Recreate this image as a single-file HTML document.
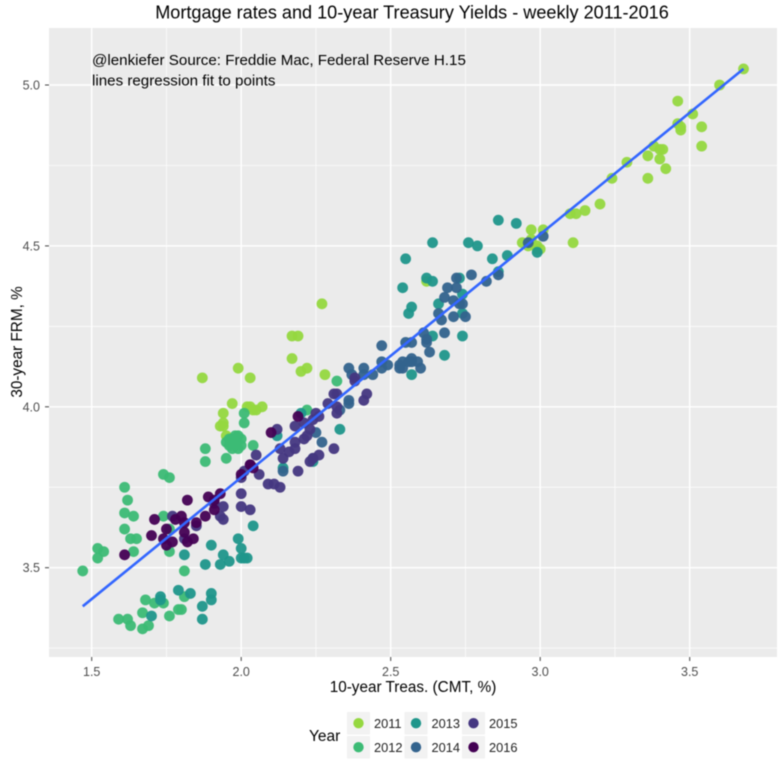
<!DOCTYPE html>
<html lang="en">
<head>
<meta charset="utf-8">
<title>Mortgage rates and 10-year Treasury Yields</title>
<style>
html,body{margin:0;padding:0;background:#fff;width:781px;height:763px;overflow:hidden}
svg{display:block;font-family:"Liberation Sans",sans-serif;filter:blur(0.5px)}
</style>
</head>
<body>
<svg id="chart" width="781" height="763" viewBox="0 0 781 763">
  <rect x="49" y="28" width="728" height="629" fill="#ebebeb"/>
  <g id="grid"></g>
  <g id="marks"></g>
  <g id="fit"></g>
  <g id="axes"></g>
  <text x="412" y="18.5" font-size="18.1" text-anchor="middle" fill="#000">Mortgage rates and 10-year Treasury Yields - weekly 2011-2016</text>
  <text x="92" y="65" font-size="15.15" fill="#000">@lenkiefer Source: Freddie Mac, Federal Reserve H.15</text>
  <text x="92" y="85.5" font-size="15.15" fill="#000">lines regression fit to points</text>
  <text x="413" y="692" font-size="15.3" text-anchor="middle" fill="#000">10-year Treas. (CMT, %)</text>
  <text transform="translate(22,342) rotate(-90)" font-size="15.3" text-anchor="middle" fill="#000">30-year FRM, %</text>
  <text x="309" y="741" font-size="15.5" fill="#000">Year</text>
  <g id="legend"></g>
</svg>
<script>
const years = [2011, 2012, 2013, 2014, 2015, 2016];
const yearColors = ["#95d840", "#3cbb75", "#1f968b", "#33638d", "#453781", "#440154"];
const xMajorTicks = [1.5, 2.0, 2.5, 3.0, 3.5];
const yMajorTicks = [3.5, 4.0, 4.5, 5.0];
const xTickLabels = ["1.5", "2.0", "2.5", "3.0", "3.5"];
const yTickLabels = ["3.5", "4.0", "4.5", "5.0"];
const xMinorTicks = [1.75, 2.25, 2.75, 3.25];
const yMinorTicks = [3.25, 3.75, 4.25, 4.75];
const fitTreasury = [1.47, 3.68];
const fitMortgage = [3.38, 5.05];

const points2011 = [[3.68,5.05],[3.60,5.00],[3.46,4.95],[3.51,4.91],[3.46,4.88],[3.47,4.87],[3.47,4.86],[3.54,4.87],[3.54,4.81],[3.38,4.81],[3.40,4.80],[3.41,4.80],[3.36,4.78],[3.40,4.77],[3.42,4.74],[3.36,4.71],[3.29,4.76],[3.24,4.71],[3.20,4.63],[3.15,4.61],[3.12,4.60],[3.10,4.60],[3.11,4.51],[3.01,4.55],[2.97,4.55],[2.94,4.51],[2.96,4.50],[2.97,4.52],[2.99,4.50],[3.00,4.49],[2.99,4.49],[2.62,4.39],[2.27,4.32],[2.17,4.22],[2.19,4.22],[2.17,4.15],[2.20,4.11],[2.22,4.12],[2.28,4.10],[1.87,4.09],[1.99,4.12],[2.03,4.09],[1.97,4.01],[1.94,3.98],[1.94,3.95],[1.93,3.94],[1.94,3.94],[1.95,3.91],[2.02,4.00],[2.04,3.99],[2.05,3.99],[2.07,4.00],[2.03,4.00]];
const points2012 = [[1.47,3.49],[1.52,3.56],[1.54,3.55],[1.52,3.53],[1.61,3.75],[1.62,3.71],[1.61,3.67],[1.64,3.66],[1.61,3.62],[1.63,3.59],[1.65,3.59],[1.64,3.55],[1.74,3.79],[1.76,3.78],[1.74,3.66],[1.76,3.62],[1.76,3.55],[1.81,3.49],[1.68,3.40],[1.71,3.39],[1.74,3.39],[1.67,3.36],[1.76,3.35],[1.79,3.37],[1.80,3.37],[1.81,3.41],[1.59,3.34],[1.62,3.34],[1.63,3.32],[1.67,3.31],[1.69,3.32],[1.96,3.90],[1.97,3.89],[1.98,3.88],[1.99,3.87],[2.00,3.88],[2.00,3.90],[1.99,3.91],[1.98,3.91],[1.97,3.90],[1.97,3.87],[1.98,3.89],[1.95,3.89],[1.96,3.88],[2.04,3.88],[1.88,3.87],[1.88,3.83],[1.95,3.84],[2.01,3.98],[2.01,3.95],[2.22,3.99],[2.32,4.08]];
const points2013 = [[1.81,3.54],[1.90,3.57],[1.88,3.51],[1.94,3.54],[1.93,3.51],[1.96,3.52],[1.99,3.59],[2.00,3.56],[2.00,3.53],[2.01,3.53],[2.02,3.53],[2.04,3.63],[1.73,3.41],[1.73,3.40],[1.79,3.43],[1.83,3.42],[1.90,3.42],[1.90,3.40],[1.87,3.38],[1.87,3.34],[1.70,3.35],[2.12,3.91],[2.14,3.81],[2.24,3.83],[2.20,3.98],[2.33,3.93],[2.57,4.10],[2.68,4.16],[2.74,4.22],[2.64,4.22],[2.56,4.29],[2.57,4.31],[2.54,4.37],[2.62,4.40],[2.64,4.39],[2.55,4.46],[2.64,4.51],[2.76,4.51],[2.79,4.50],[2.86,4.58],[2.92,4.57],[2.84,4.46],[2.89,4.47],[2.66,4.32],[2.74,4.35],[2.74,4.29],[2.86,4.42],[2.99,4.48],[2.73,4.40]];
const points2014 = [[2.36,4.12],[2.37,4.10],[2.41,4.12],[2.41,4.10],[2.44,4.10],[2.47,4.19],[2.47,4.14],[2.47,4.12],[2.49,4.13],[2.53,4.13],[2.53,4.12],[2.54,4.14],[2.54,4.12],[2.55,4.20],[2.57,4.20],[2.57,4.15],[2.57,4.14],[2.59,4.14],[2.60,4.12],[2.56,4.14],[2.63,4.17],[2.62,4.20],[2.62,4.21],[2.61,4.23],[2.68,4.23],[2.67,4.27],[2.66,4.29],[2.71,4.28],[2.75,4.28],[2.74,4.32],[2.73,4.32],[2.71,4.33],[2.68,4.34],[2.69,4.37],[2.72,4.37],[2.72,4.40],[2.77,4.41],[2.82,4.39],[2.86,4.41],[2.96,4.51],[3.01,4.53],[2.36,4.02],[2.36,4.01],[2.33,3.99],[2.25,3.92],[2.27,3.89],[2.14,3.80],[2.24,3.84]];
const points2015 = [[2.00,3.73],[2.00,3.78],[2.06,3.79],[2.05,3.85],[2.01,3.80],[2.03,3.82],[2.09,3.76],[2.11,3.76],[2.13,3.75],[2.19,3.80],[2.13,3.87],[2.14,3.84],[2.16,3.86],[2.18,3.87],[2.18,3.89],[2.21,3.90],[2.22,3.91],[2.23,3.93],[2.12,3.93],[2.18,3.94],[2.21,3.95],[2.24,3.96],[2.26,3.97],[2.25,3.98],[2.23,3.83],[2.24,3.84],[2.26,3.85],[2.31,3.87],[2.29,4.01],[2.31,4.04],[2.32,4.04],[2.32,4.00],[2.32,3.98],[2.38,4.09],[2.38,4.08],[2.42,4.04],[2.41,4.02],[1.77,3.66],[1.85,3.63],[1.94,3.69],[1.93,3.66],[1.94,3.65],[1.81,3.59],[2.00,3.69],[2.03,3.68],[1.91,3.70]];
const points2016 = [[1.61,3.54],[1.70,3.60],[1.71,3.65],[1.75,3.62],[1.74,3.59],[1.75,3.57],[1.77,3.58],[1.78,3.65],[1.80,3.66],[1.81,3.61],[1.82,3.58],[1.84,3.59],[1.82,3.71],[1.81,3.64],[1.85,3.64],[1.88,3.66],[1.91,3.68],[1.89,3.72],[1.93,3.73],[1.91,3.71],[2.00,3.79],[2.03,3.82],[2.04,3.81],[2.10,3.92],[2.19,3.97]];
const seriesPoints = [points2011, points2012, points2013, points2014, points2015, points2016];

const NS = "http://www.w3.org/2000/svg";
const panelLeft = 49, panelRight = 777, panelTop = 28, panelBottom = 657;
function xScale(v) { return 91.7 + (v - 1.5) * 299; }
function yScale(v) { return 567.7 - (v - 3.5) * 321.8; }
function make(tag, parent, attrs) {
  const el = document.createElementNS(NS, tag);
  for (const k in attrs) el.setAttribute(k, attrs[k]);
  parent.appendChild(el);
  return el;
}
const grid = document.getElementById("grid");
const axes = document.getElementById("axes");
const marks = document.getElementById("marks");
const fit = document.getElementById("fit");
const legend = document.getElementById("legend");

xMinorTicks.forEach(function (v) {
  const l = make("line", grid, {x1: xScale(v), x2: xScale(v), y1: panelTop, y2: panelBottom, stroke: "#fff", "stroke-width": 0.7});
  
  
});
yMinorTicks.forEach(function (v) {
  const l = make("line", grid, {x1: panelLeft, x2: panelRight, y1: yScale(v), y2: yScale(v), stroke: "#fff", "stroke-width": 0.7});
  
  
});
xMajorTicks.forEach(function (v, i) {
  const x = xScale(v);
  const l = make("line", grid, {x1: x, x2: x, y1: panelTop, y2: panelBottom, stroke: "#fff", "stroke-width": 1.4});
  
  
  const t = make("line", axes, {x1: x, x2: x, y1: panelBottom, y2: panelBottom + 4, stroke: "#444", "stroke-width": 1});
  
  
  const s = make("text", axes, {x: x, y: 676, "font-size": 12.5, "text-anchor": "middle", fill: "#4d4d4d"});
  s.textContent = xTickLabels[i];
  
  
});
yMajorTicks.forEach(function (v, i) {
  const y = yScale(v);
  const l = make("line", grid, {x1: panelLeft, x2: panelRight, y1: y, y2: y, stroke: "#fff", "stroke-width": 1.4});
  
  
  const t = make("line", axes, {x1: panelLeft - 4, x2: panelLeft, y1: y, y2: y, stroke: "#444", "stroke-width": 1});
  
  
  const s = make("text", axes, {x: 40, y: y + 4.5, "font-size": 12.5, "text-anchor": "end", fill: "#4d4d4d"});
  s.textContent = yTickLabels[i];
  
  
});

seriesPoints.forEach(function (pts, s) {
  const g = make("g", marks, {fill: yearColors[s], "fill-opacity": 0.95});
  
  
  pts.forEach(function (p) {
    const c = make("circle", g, {cx: xScale(p[0]), cy: yScale(p[1]), r: 5.4});
    
    
  });
});

const fitLine = make("line", fit, {
  x1: xScale(fitTreasury[0]), y1: yScale(fitMortgage[0]),
  x2: xScale(fitTreasury[1]), y2: yScale(fitMortgage[1]),
  stroke: "#3366ff", "stroke-width": 2.6
});



const legendColumnX = [347, 404.5, 462];
const legendRowY = [712, 736];
years.forEach(function (yr, i) {
  const col = Math.floor(i / 2), row = i % 2;
  const kx = legendColumnX[col], ky = legendRowY[row];
  const k = make("rect", legend, {x: kx, y: ky, width: 23, height: 22.5, fill: "#f2f2f2"});
  
  
  const d = make("circle", legend, {cx: kx + 11.5, cy: ky + 11.2, r: 5.2, fill: yearColors[i]});
  
  
  const t = make("text", legend, {x: kx + 27, y: ky + 16, "font-size": 12.8, fill: "#222"});
  t.textContent = yr;
  
  
});
</script>
</body>
</html>
